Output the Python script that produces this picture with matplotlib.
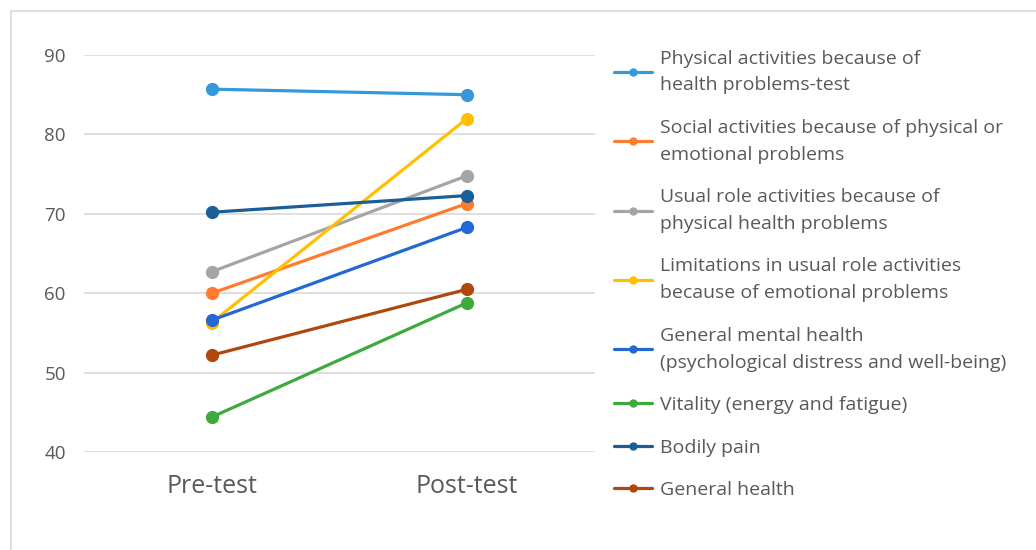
import matplotlib
matplotlib.use("Agg")
import matplotlib.pyplot as plt
from matplotlib.lines import Line2D

plt.rcParams['font.family'] = ['Open Sans', 'DejaVu Sans']

# data
phases = ["Pre-test", "Post-test"]
labels = [
    "Physical activities because of\nhealth problems-test",
    "Social activities because of physical or\nemotional problems",
    "Usual role activities because of\nphysical health problems",
    "Limitations in usual role activities\nbecause of emotional problems",
    "General mental health\n(psychological distress and well-being)",
    "Vitality (energy and fatigue)",
    "Bodily pain",
    "General health",
]
pre_vals = [85.7, 60.0, 62.7, 56.3, 56.6, 44.4, 70.2, 52.2]
post_vals = [85.0, 71.3, 74.8, 82.0, 68.3, 58.8, 72.3, 60.5]
colors = ["#3498DB", "#FF7B2E", "#A5A5A5", "#FFC000", "#2468D4",
          "#3DAA3D", "#1B5E97", "#B0470C"]
yticks = [40, 50, 60, 70, 80, 90]

fig = plt.figure(figsize=(10.36, 5.5), dpi=100)
ax = fig.add_axes([0.081, 0.178, 0.493, 0.722])

x = list(range(len(phases)))
for lab, a, b, c in zip(labels, pre_vals, post_vals, colors):
    ax.plot(x, [a, b], color=c, lw=2.3, marker='o', markersize=8.5,
            label=lab, solid_capstyle='round')

ax.set_xlim(-0.5, 1.5)
ax.set_ylim(40, 90)
ax.set_yticks(yticks)
ax.set_xticks(x)
ax.set_xticklabels(phases)
ax.grid(axis='y', color='#d9d9d9', lw=1.2)
ax.set_axisbelow(True)
for s in ax.spines.values():
    s.set_visible(False)
ax.tick_params(axis='y', length=0, pad=13, labelsize=13.5, labelcolor='#595959')
ax.tick_params(axis='x', length=0, pad=16, labelsize=18, labelcolor='#595959')

leg = fig.legend(loc='upper left', bbox_to_anchor=(0.593, 0.91), frameon=False,
                 fontsize=14, labelspacing=1.26, handlelength=1.95,
                 handletextpad=0.4, borderpad=0, borderaxespad=0)
for t in leg.get_texts():
    t.set_color('#595959')
    t.set_linespacing(1.63)
for h in leg.legend_handles:
    h.set_markersize(5)

# thin frame lines on top and left, as in the source image
fig.add_artist(Line2D([11/1036, 1], [1-11/550, 1-11/550], color='#d9d9d9', lw=1.2))
fig.add_artist(Line2D([11/1036, 11/1036], [0, 1-11/550], color='#d9d9d9', lw=1.2))

fig.savefig("out.png", dpi=100)
